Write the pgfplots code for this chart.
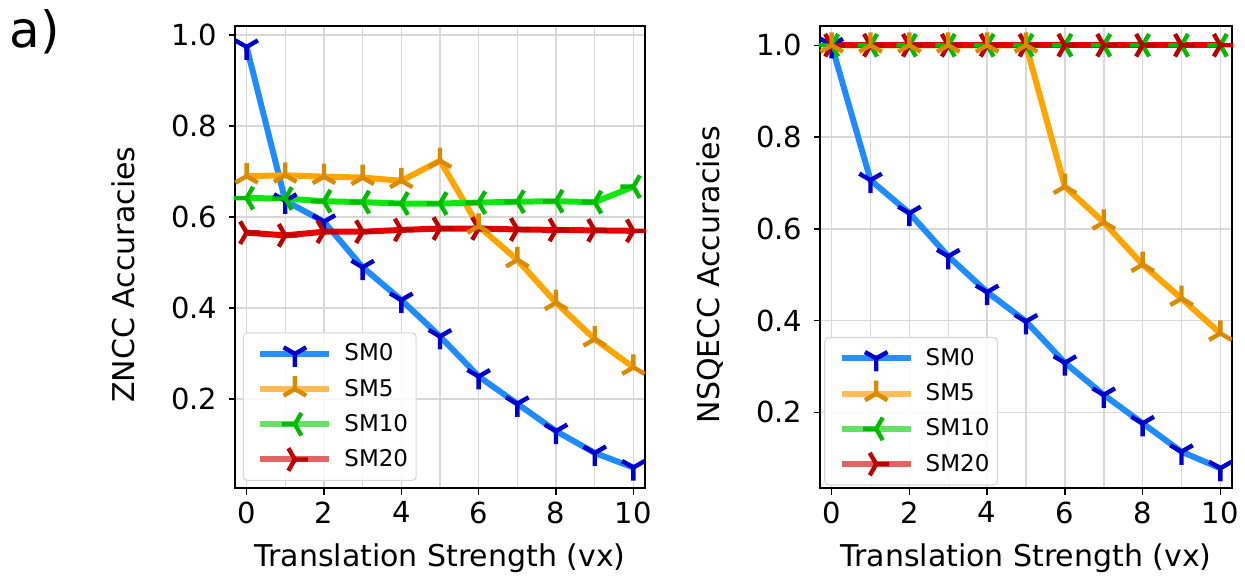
\documentclass[border=0pt]{standalone}
\usepackage{fontspec}
\setmainfont{DejaVu Sans}
\usepackage{pgfplots}
\pgfplotsset{compat=1.18}
\usepackage{pgfplotstable}
\usetikzlibrary{plotmarks}
\definecolor{gridc}{HTML}{D8D8D8}
\definecolor{c0l}{HTML}{1E8CFF}
\definecolor{c0m}{HTML}{0000CD}
\definecolor{c0g}{HTML}{2A90F5}
\definecolor{c1l}{HTML}{FFA500}
\definecolor{c1m}{HTML}{D98A00}
\definecolor{c1g}{HTML}{FFBB55}
\definecolor{c2l}{HTML}{11E611}
\definecolor{c2m}{HTML}{00BB00}
\definecolor{c2g}{HTML}{66E066}
\definecolor{c3l}{HTML}{E80000}
\definecolor{c3m}{HTML}{BB0000}
\definecolor{c3g}{HTML}{E06666}

\pgfplotstableread{
x sm0 sm5 sm10 sm20
0 0.974 0.690 0.642 0.566
1 0.636 0.692 0.641 0.560
2 0.590 0.689 0.635 0.568
3 0.490 0.687 0.633 0.568
4 0.418 0.680 0.630 0.572
5 0.338 0.724 0.630 0.575
6 0.250 0.580 0.632 0.575
7 0.190 0.506 0.634 0.573
8 0.130 0.412 0.635 0.572
9 0.082 0.332 0.633 0.571
10 0.050 0.270 0.667 0.570
}\zncc

\pgfplotstableread{
x sm0 sm5 sm10 sm20
0 1.000 1.000 1.000 1.000
1 0.706 1.000 1.000 1.000
2 0.634 1.000 1.000 1.000
3 0.540 1.000 1.000 1.000
4 0.462 1.000 1.000 1.000
5 0.398 1.000 1.000 1.000
6 0.308 0.692 1.000 1.000
7 0.238 0.614 1.000 1.000
8 0.176 0.522 1.000 1.000
9 0.114 0.448 1.000 1.000
10 0.078 0.372 1.000 1.000
}\nsqecc

\pgfplotsset{
  myaxis/.style={
    scale only axis, width=205pt, height=231pt,
    xmin=-0.3, xmax=10.3,
    xtick={0,2,...,10}, minor xtick={1,3,...,9},
    ytick={0.2,0.4,0.6,0.8,1.0},
    grid=both,
    major grid style={draw=gridc, line width=0.75pt},
    minor grid style={draw=gridc, line width=0.75pt},
    minor tick length=0pt,
    major tick length=3.25pt,
    tick align=outside,
    tick pos=left,
    tick style={line width=0.75pt, black},
    axis line style={line width=1pt, black},
    /pgf/number format/assume math mode=true,
    ticklabel style={font=\fontsize{14.5}{16}\selectfont},
    y tick label style={xshift=-2pt, /pgf/number format/.cd, fixed, fixed zerofill, precision=1, /tikz/.cd},
    label style={font=\fontsize{15}{18}\selectfont},
    xlabel={Translation Strength (vx)},
    xlabel style={at={(axis description cs:0.5,-0.169)}, anchor=base},
    ylabel style={at={(axis description cs:-0.244,0.462)}, anchor=base},
    legend image code/.code={
      \path (-3pt,-7.3pt) (34.5pt,7.3pt);
      \begin{pgfinterruptboundingbox}
      \draw[mark repeat=2,mark phase=2,##1] plot coordinates {(0pt,0pt) (17.25pt,0pt) (34.5pt,0pt)};
      \end{pgfinterruptboundingbox}
    },
    legend style={anchor=south west, fill=white, fill opacity=0.85, text opacity=1,
      draw=gridc, line width=0.6pt, rounded corners=2pt,
      font=\fontsize{11.5}{13}\selectfont, cells={anchor=west},
      nodes={inner sep=0pt}, row sep=0pt, column sep=6pt,
      inner xsep=4pt, inner ysep=1.7pt},
    linestyle/.style={forget plot, line width=3pt},
    markstyle/.style={forget plot, only marks, mark size=6.5pt},
  }
}

\begin{document}
\begin{tikzpicture}
\useasboundingbox (0,0) rectangle (622.5pt,288.5pt);
\node[anchor=base west, inner sep=0pt, font=\fontsize{25}{28}\selectfont] at (4.5pt,264.5pt) {a)};

\begin{axis}[myaxis, at={(117.5pt,44.5pt)}, anchor=south west,
  ymin=0.005, ymax=1.02, ylabel={ZNCC Accuracies},
  legend style={at={(0.019,0.015)}}]
\addplot[linestyle, c0l] table[x=x,y=sm0]{\zncc};
\addplot[linestyle, c1l] table[x=x,y=sm5]{\zncc};
\addplot[linestyle, c2l] table[x=x,y=sm10]{\zncc};
\addplot[linestyle, c3l] table[x=x,y=sm20]{\zncc};
\addplot[markstyle, mark=Mercedes star flipped, mark options={draw=c0m, line width=2.2pt}] table[x=x,y=sm0]{\zncc};
\addplot[markstyle, mark=Mercedes star, mark options={draw=c2m, rotate=90, line width=2.2pt}] table[x=x,y=sm10]{\zncc};
\addplot[markstyle, mark=Mercedes star, mark options={draw=c3m, rotate=-90, line width=2.2pt}] table[x=x,y=sm20]{\zncc};
\addplot[markstyle, mark=Mercedes star, mark options={draw=c1m, line width=2.2pt}] table[x=x,y=sm5]{\zncc};
\addlegendimage{c0g, line width=3pt, mark=Mercedes star flipped, mark size=6.5pt, mark options={draw=c0m, line width=2.2pt}}
\addlegendentry{SM0}
\addlegendimage{c1g, line width=3pt, mark=Mercedes star, mark size=6.5pt, mark options={draw=c1m, line width=2.2pt}}
\addlegendentry{SM5}
\addlegendimage{c2g, line width=3pt, mark=Mercedes star, mark size=6.5pt, mark options={draw=c2m, rotate=90, line width=2.2pt}}
\addlegendentry{SM10}
\addlegendimage{c3g, line width=3pt, mark=Mercedes star, mark size=6.5pt, mark options={draw=c3m, rotate=-90, line width=2.2pt}}
\addlegendentry{SM20}
\end{axis}

\begin{axis}[myaxis, at={(410pt,44.5pt)}, anchor=south west, width=206pt,
  ymin=0.035, ymax=1.042, ylabel={NSQECC Accuracies},
  legend style={at={(0.01,0.005)}}]
\addplot[linestyle, c0l] table[x=x,y=sm0]{\nsqecc};
\addplot[linestyle, c1l] table[x=x,y=sm5]{\nsqecc};
\addplot[linestyle, c2l] table[x=x,y=sm10]{\nsqecc};
\addplot[linestyle, c3l] table[x=x,y=sm20]{\nsqecc};
\addplot[markstyle, mark=Mercedes star flipped, mark options={draw=c0m, line width=2.2pt}] table[x=x,y=sm0]{\nsqecc};
\addplot[markstyle, mark=Mercedes star, mark options={draw=c2m, rotate=90, line width=2.2pt}] table[x=x,y=sm10]{\nsqecc};
\addplot[markstyle, mark=Mercedes star, mark options={draw=c3m, rotate=-90, line width=2.2pt}] table[x=x,y=sm20]{\nsqecc};
\addplot[markstyle, mark=Mercedes star, mark options={draw=c1m, line width=2.2pt}] table[x=x,y=sm5]{\nsqecc};
\addlegendimage{c0g, line width=3pt, mark=Mercedes star flipped, mark size=6.5pt, mark options={draw=c0m, line width=2.2pt}}
\addlegendentry{SM0}
\addlegendimage{c1g, line width=3pt, mark=Mercedes star, mark size=6.5pt, mark options={draw=c1m, line width=2.2pt}}
\addlegendentry{SM5}
\addlegendimage{c2g, line width=3pt, mark=Mercedes star, mark size=6.5pt, mark options={draw=c2m, rotate=90, line width=2.2pt}}
\addlegendentry{SM10}
\addlegendimage{c3g, line width=3pt, mark=Mercedes star, mark size=6.5pt, mark options={draw=c3m, rotate=-90, line width=2.2pt}}
\addlegendentry{SM20}
\end{axis}
\end{tikzpicture}
\end{document}
